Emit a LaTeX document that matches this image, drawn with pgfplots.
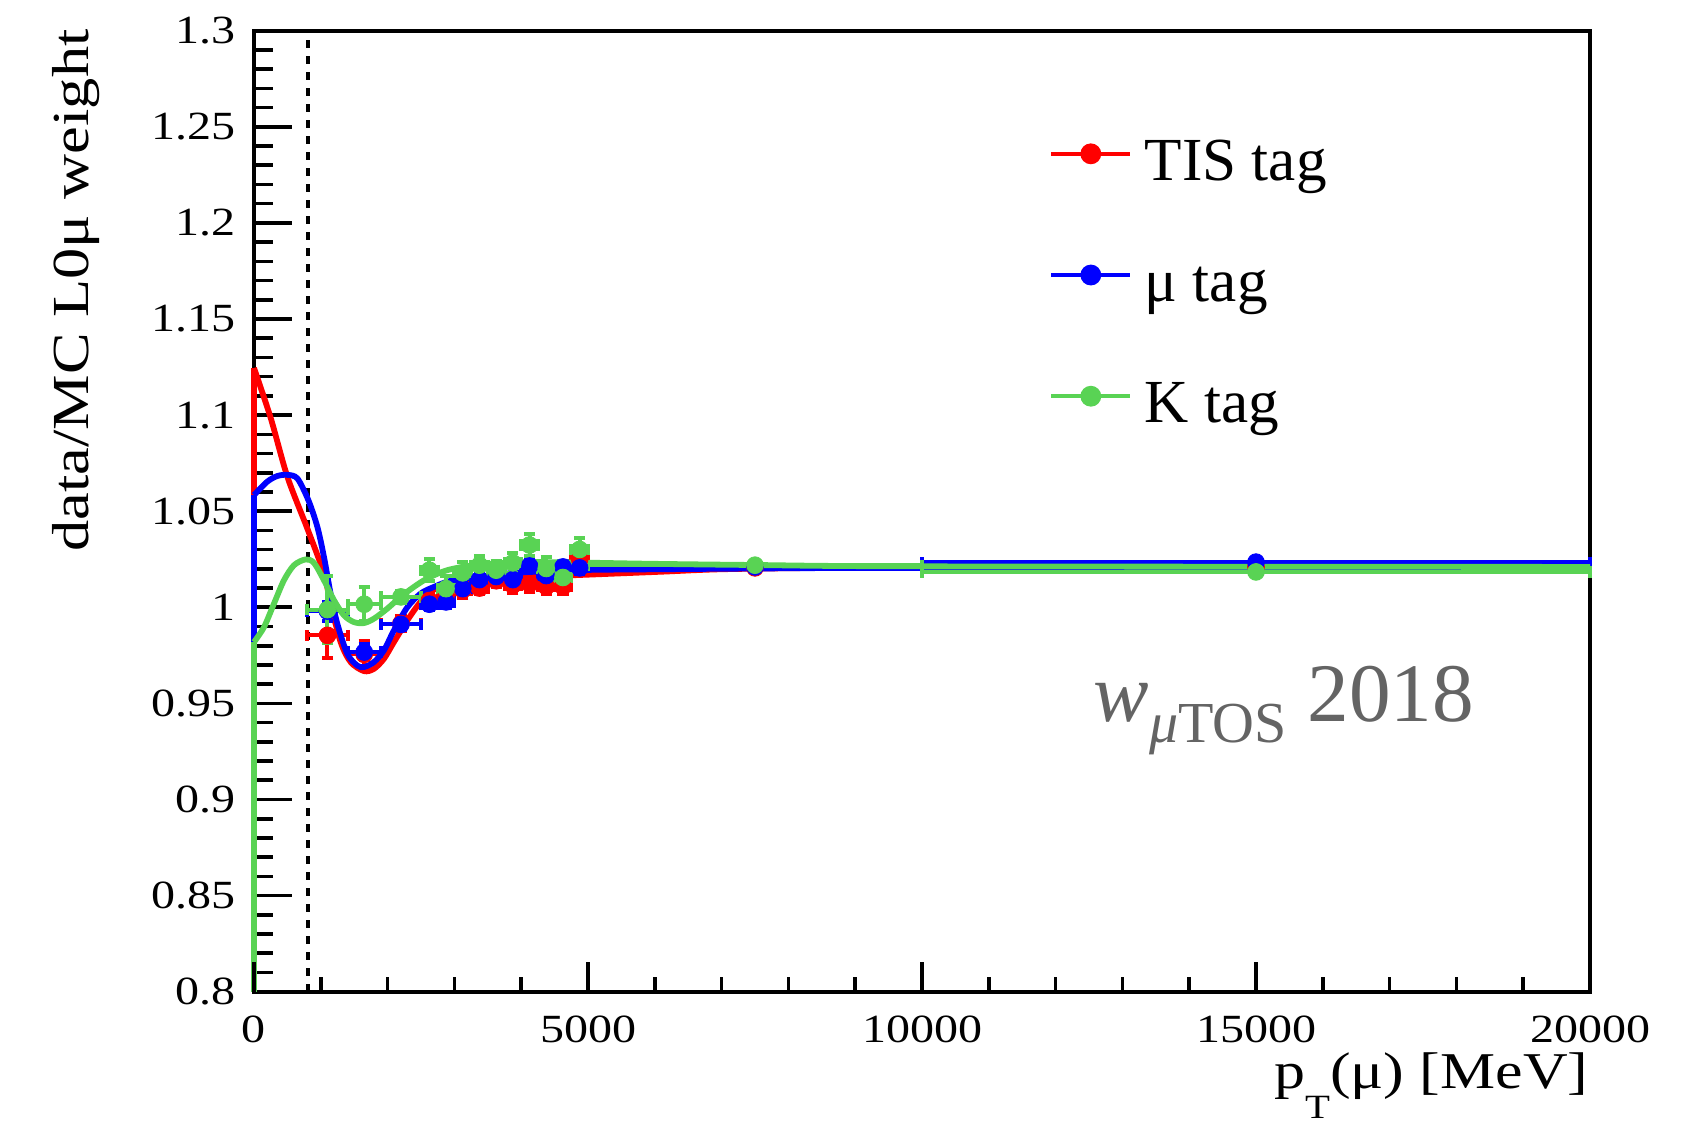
\documentclass[border=0pt]{standalone}
\usepackage{fontspec}
\setmainfont{Liberation Serif}
\newfontfamily\axisfont{Liberation Serif}[FakeStretch=1.2]
\usepackage{pgfplots}
\usepackage{pgfplotstable}
\pgfplotsset{compat=1.18}
\definecolor{rootred}{RGB}{255,0,0}
\definecolor{rootblue}{RGB}{0,0,255}
\definecolor{rootgreen}{RGB}{89,211,84}
\definecolor{annogray}{RGB}{100,100,100}

\pgfplotstableread{
x ex y ey
1100 300 0.9854 0.012
1650 250 0.9755 0.007
2200 300 0.9915 0.004
2625 125 1.0035 0.004
2875 125 1.0060 0.004
3125 125 1.0090 0.004
3375 125 1.0100 0.003
3625 125 1.0138 0.003
3875 125 1.0115 0.004
4125 125 1.0122 0.004
4375 125 1.0108 0.004
4625 125 1.0108 0.004
4875 125 1.0250 0.004
7500 2500 1.0205 0.001
15000 5000 1.0210 0.002
}\tisdata

\pgfplotstableread{
x ex y ey
1100 300 0.9980 0.005
1650 250 0.9767 0.004
2200 300 0.9911 0.003
2625 125 1.0016 0.003
2875 125 1.0028 0.003
3125 125 1.0097 0.003
3375 125 1.0144 0.003
3625 125 1.0160 0.003
3875 125 1.0144 0.003
4125 125 1.0215 0.003
4375 125 1.0165 0.003
4625 125 1.0210 0.003
4875 125 1.0205 0.003
7500 2500 1.0210 0.001
15000 5000 1.0235 0.002
}\mudata

\pgfplotstableread{
x ex y ey
1100 300 0.9988 0.0174
1650 250 1.0016 0.0087
2200 300 1.0054 0.003
2625 125 1.0193 0.0057
2875 125 1.0097 0.0065
3125 125 1.0179 0.0057
3375 125 1.0219 0.005
3625 125 1.0193 0.005
3875 125 1.0231 0.005
4125 125 1.0324 0.0056
4375 125 1.0202 0.006
4625 125 1.0155 0.006
4875 125 1.0301 0.006
7500 2500 1.0219 0.001
15000 5000 1.0184 0.002
}\kdata

\begin{document}
\begin{tikzpicture}
\begin{axis}[
  name=ax, at={(0,0)}, anchor=south west,
  scale only axis, width=334pt, height=240.25pt,
  xmin=0, xmax=20000, ymin=0.8, ymax=1.3,
  clip=false,
  scaled x ticks=false, scaled y ticks=false,
  axis line style={line width=1pt},
  xtick={0,5000,10000,15000,20000},
  xticklabels={0,5000,10000,15000,20000},
  minor x tick num=4,
  ytick={0.8,0.85,0.9,0.95,1,1.05,1.1,1.15,1.2,1.25,1.3},
  yticklabels={0.8,0.85,0.9,0.95,1,1.05,1.1,1.15,1.2,1.25,1.3},
  minor y tick num=4,
  xtick pos=bottom, ytick pos=left,
  tick align=inside,
  major tick length=9.6pt, minor tick length=4.75pt,
  tick style={line width=0.9pt, black},
  major x tick style={draw=none}, minor x tick style={draw=none},
  ticklabel style={font=\axisfont\fontsize{10pt}{12pt}\selectfont},
  xticklabel style={inner sep=0pt, anchor=north, yshift=-5.8pt},
  yticklabel style={inner sep=0pt, anchor=east, xshift=-4.4pt},
  legend style={at={(rel axis cs:0.5953,0.8904)}, anchor=north west, draw=none, fill=none,
    inner sep=0pt, outer sep=0pt, /tikz/row sep=14.8pt, /tikz/column sep=3.1pt,
    nodes={inner sep=0pt, text height=11pt, text depth=4.5pt},
    font=\fontsize{15.3pt}{18pt}\selectfont},
  legend cell align=left,
  legend image code/.code={\draw[mark repeat=2,mark phase=2,#1] plot coordinates {(0pt,3.3pt) (9.875pt,3.3pt) (19.75pt,3.3pt)};},
]
% dashed threshold line
\addplot[black, line width=1pt, dash pattern=on 2pt off 2pt, forget plot] coordinates {(808,0.8) (808,1.3)};

% TIS tag
\addplot[rootred, line width=1.45pt, forget plot] coordinates {(0,0.8) (0,1.1245)};
\addplot[rootred, line width=1.45pt, smooth, forget plot] coordinates {
(0,1.1245) (250,1.0985) (499,1.068) (798,1.041) (1047,1.0176) (1147,1.0019) (1297,0.9819)
(1447,0.9715) (1646,0.9668) (1796,0.9680) (1945,0.9732) (2095,0.9819) (2295,0.9932)
(2494,1.0028) (2694,1.0092) (2993,1.0132) (3292,1.0144) (3791,1.0155) (4789,1.0167)
(6086,1.0185) (7000,1.0198) (8500,1.0205) (10000,1.0207) (20000,1.0207)};
\addplot[rootred, only marks, mark=*, mark size=2.1pt, mark options={solid, line width=0.2pt}, forget plot,
  error bars/.cd, x dir=both, x explicit, y dir=both, y explicit,
  error bar style={line width=1pt, rootred},
  error mark options={rotate=90, mark size=1.4pt, line width=1pt, rootred}]
  table[x=x, y=y, x error=ex, y error=ey] {\tisdata};

% mu tag
\addplot[rootblue, line width=1.45pt, forget plot] coordinates {(0,0.8) (0,1.0584)};
\addplot[rootblue, line width=1.45pt, smooth, forget plot] coordinates {
(0,1.0584) (200,1.0654) (350,1.0683) (499,1.0689) (650,1.0670) (813,1.0558) (948,1.0419)
(1047,1.0263) (1147,1.0071) (1247,0.9915) (1397,0.9758) (1546,0.9697) (1646,0.9689)
(1796,0.9715) (1945,0.9776) (2095,0.9880) (2295,1.0000) (2494,1.0071) (2694,1.0106)
(2993,1.0141) (3791,1.0176) (4789,1.0193) (6086,1.0198) (8000,1.0203) (10000,1.0205) (20000,1.0205)};
\addplot[rootblue, only marks, mark=*, mark size=2.1pt, mark options={solid, line width=0.2pt}, forget plot,
  error bars/.cd, x dir=both, x explicit, y dir=both, y explicit,
  error bar style={line width=1pt, rootblue},
  error mark options={rotate=90, mark size=1.4pt, line width=1pt, rootblue}]
  table[x=x, y=y, x error=ex, y error=ey] {\mudata};

% K tag
\addplot[rootgreen, line width=1.45pt, forget plot] coordinates {(0,0.8) (0,0.9819)};
\addplot[rootgreen, line width=1.45pt, smooth, forget plot] coordinates {
(0,0.9819) (150,0.9897) (299,1.0019) (449,1.0141) (599,1.0219) (773,1.0249) (898,1.0231)
(1047,1.0141) (1197,1.0037) (1347,0.9958) (1496,0.9923) (1646,0.9918) (1796,0.9941)
(1995,0.9993) (2195,1.0054) (2394,1.0106) (2594,1.0150) (2893,1.0193) (3292,1.0219)
(3791,1.0231) (4290,1.0235) (5000,1.0232) (6000,1.0226) (7500,1.0220) (10000,1.0213) (20000,1.0210)};
\addplot[rootgreen, only marks, mark=*, mark size=2.1pt, mark options={solid, line width=0.2pt}, forget plot,
  error bars/.cd, x dir=both, x explicit, y dir=both, y explicit,
  error bar style={line width=1pt, rootgreen},
  error mark options={rotate=90, mark size=1.4pt, line width=1pt, rootgreen}]
  table[x=x, y=y, x error=ex, y error=ey] {\kdata};

\addlegendimage{rootred, line width=1pt, mark=*, mark size=2.1pt, mark options={solid}}
\addlegendentry{TIS tag}
\addlegendimage{rootblue, line width=1pt, mark=*, mark size=2.1pt, mark options={solid}}
\addlegendentry{μ tag}
\addlegendimage{rootgreen, line width=1pt, mark=*, mark size=2.1pt, mark options={solid}}
\addlegendentry{K tag}

\node[anchor=base west, text=annogray, inner sep=0pt] at (axis cs:12560,0.9405)
  {\fontsize{20.8pt}{24pt}\selectfont\textit{w}\raisebox{-5.3pt}{\fontsize{14.5pt}{16pt}\selectfont\textit{μ}TOS} 2018};
\end{axis}

\begin{axis}[
  at={(0,0)}, anchor=south west,
  scale only axis, width=334pt, height=240.25pt,
  xmin=0, xmax=20000, ymin=0.8, ymax=1.3,
  scaled x ticks=false, scaled y ticks=false,
  xtick={0,5000,10000,15000,20000}, xticklabels={,,,,},
  minor x tick num=4, ytick=\empty,
  xtick pos=bottom, tick align=inside,
  major tick length=7.5pt, minor tick length=3.75pt,
  tick style={line width=0.9pt, black},
  axis line style={draw=none},
]
\end{axis}

\node[rotate=90, anchor=base east, inner sep=0pt] at ([xshift=-41.4pt, yshift=0.5pt]ax.north west)
  {\axisfont\fontsize{13pt}{15pt}\selectfont data/MC L0μ weight};
\node[anchor=base east, inner sep=0pt] at ([xshift=-0.2pt, yshift=-24.1pt]ax.south east)
  {\axisfont\fontsize{12.9pt}{14pt}\selectfont p\raisebox{-7.6pt}{\fontsize{8.5pt}{9pt}\selectfont T}(μ) [MeV]};

\pgfresetboundingbox
\path[use as bounding box] (-63.5pt,-32.575pt) rectangle (359pt,247.925pt);
\end{tikzpicture}
\end{document}
